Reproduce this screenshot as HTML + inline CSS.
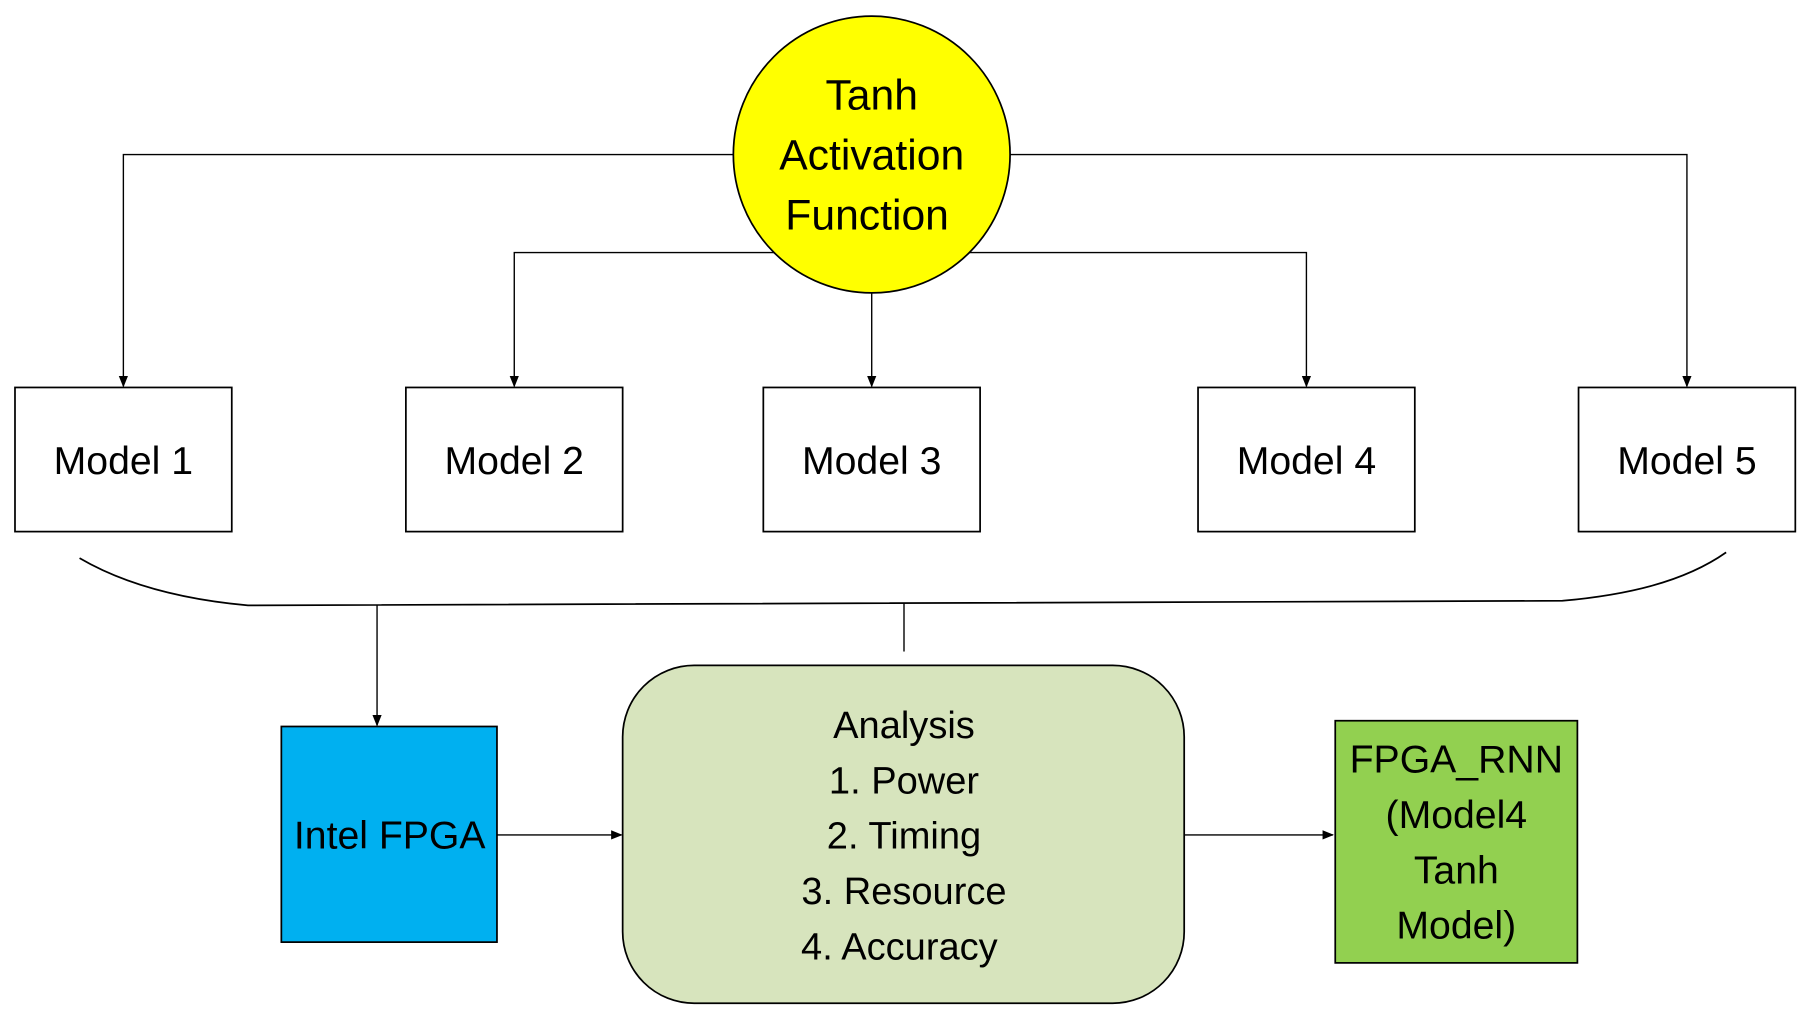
<!DOCTYPE html>
<html><head><meta charset="utf-8"><style>
html,body{margin:0;padding:0;background:#fff;width:1808px;height:1024px;overflow:hidden}
svg{display:block}
text{font-family:"Liberation Sans",sans-serif;fill:#000;text-anchor:middle}
</style></head><body>
<svg width="1808" height="1024" viewBox="0 0 1568 888" preserveAspectRatio="none" xmlns="http://www.w3.org/2000/svg">
<defs><marker id="a" markerWidth="10" markerHeight="10" refX="9" refY="5" orient="auto" markerUnits="userSpaceOnUse"><path d="M0,1 L10,5 L0,9 Z" fill="#000"/></marker></defs>
<g stroke="#000" stroke-width="1.2" fill="none">
<polyline points="636,134 107,134 107,335" marker-end="url(#a)"/>
<polyline points="876,134 1463,134 1463,335" marker-end="url(#a)"/>
<polyline points="700,219 446,219 446,335" marker-end="url(#a)"/>
<polyline points="810,219 1133,219 1133,335" marker-end="url(#a)"/>
<line x1="756" y1="254" x2="756" y2="335" marker-end="url(#a)"/>
<path d="M69,484 C110,508 160,520 215,525 L1355,521 C1410,516 1460,505 1497,479" stroke-width="1.5"/>
<line x1="327" y1="525" x2="327" y2="629" marker-end="url(#a)"/>
<line x1="784" y1="523" x2="784" y2="565"/>
<line x1="431" y1="724" x2="539" y2="724" marker-end="url(#a)"/>
<line x1="1027" y1="724" x2="1156" y2="724" marker-end="url(#a)"/>
</g>
<circle cx="756" cy="134" r="120" fill="#ffff00" stroke="#000" stroke-width="1.5"/>
<g font-size="37"><text x="756" y="95">Tanh</text><text x="756" y="147">Activation</text><text x="752" y="199">Function</text></g>
<g fill="#fff" stroke="#000" stroke-width="1.5">
<rect x="13" y="336" width="188" height="125"/><rect x="352" y="336" width="188" height="125"/>
<rect x="662" y="336" width="188" height="125"/><rect x="1039" y="336" width="188" height="125"/>
<rect x="1369" y="336" width="188" height="125"/>
</g>
<g font-size="34"><text x="107" y="411">Model 1</text><text x="446" y="411">Model 2</text><text x="756" y="411">Model 3</text><text x="1133" y="411">Model 4</text><text x="1463" y="411">Model 5</text></g>
<rect x="244" y="630" width="187" height="187" fill="#00b0f0" stroke="#000" stroke-width="1.5"/>
<text x="338" y="736" font-size="34">Intel FPGA</text>
<rect x="540" y="577" width="487" height="293" rx="62" fill="#d7e4bd" stroke="#000" stroke-width="1.5"/>
<g font-size="33"><text x="784" y="640">Analysis</text><text x="784" y="688">1. Power</text><text x="784" y="736">2. Timing</text><text x="784" y="784">3. Resource</text><text x="780" y="832">4. Accuracy</text></g>
<rect x="1158" y="625" width="210" height="210" fill="#92d050" stroke="#000" stroke-width="1.5"/>
<g font-size="34"><text x="1263" y="670">FPGA_RNN</text><text x="1263" y="718">(Model4</text><text x="1263" y="766">Tanh</text><text x="1263" y="814">Model)</text></g>
</svg>
</body></html>
